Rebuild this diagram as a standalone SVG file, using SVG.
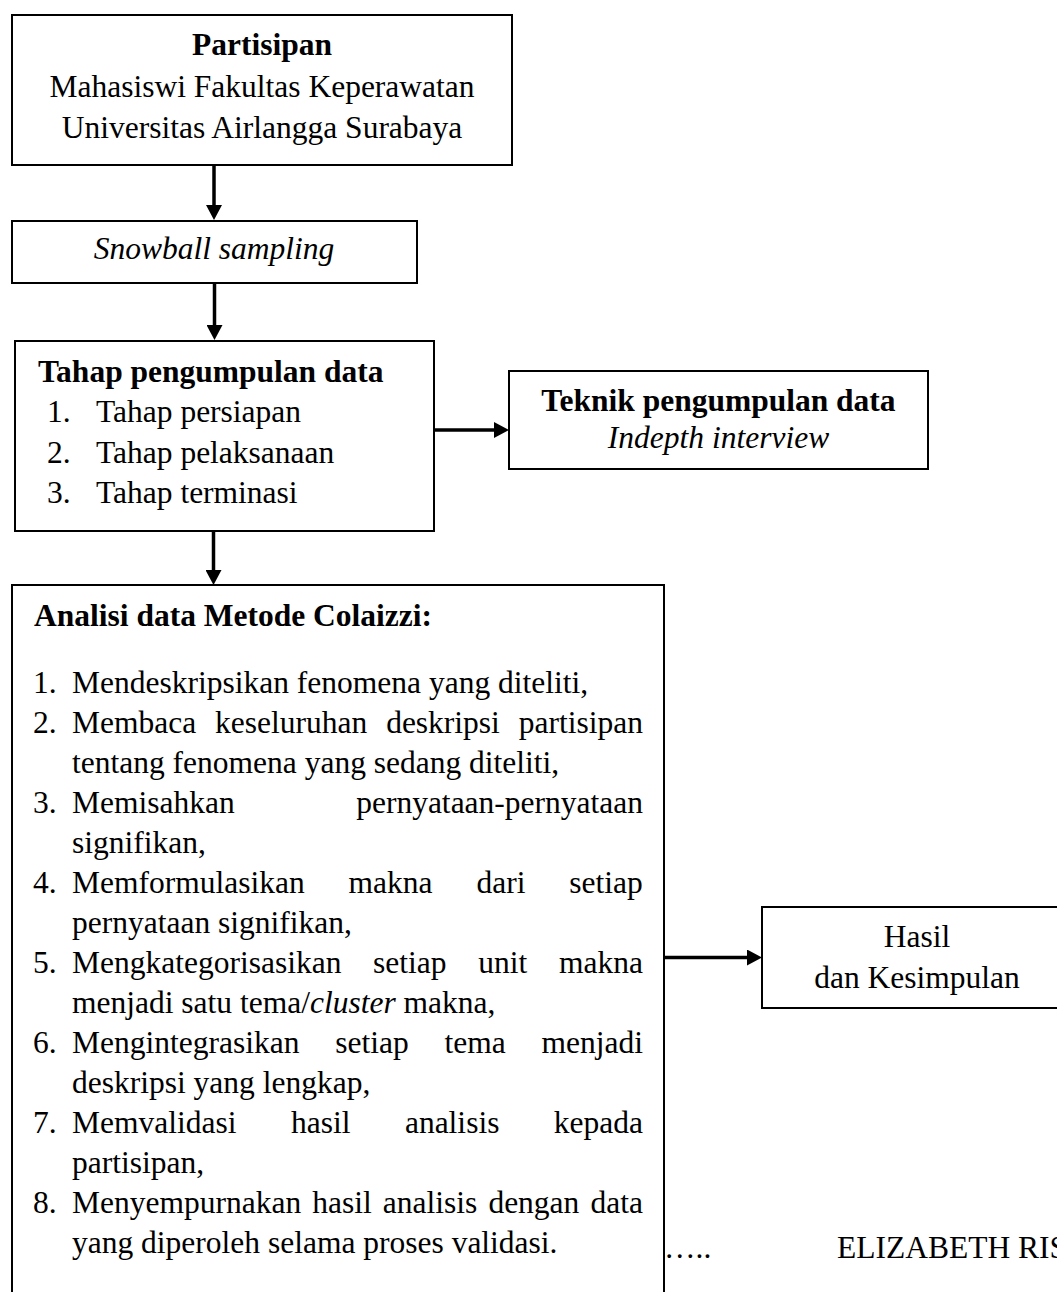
<svg xmlns="http://www.w3.org/2000/svg" width="1057" height="1292" viewBox="0 0 1057 1292">
<defs>
<style>
text{font-family:"Liberation Serif","Times New Roman",serif;font-size:31.5px;fill:#000}
.b{font-weight:bold}
.i{font-style:italic}
.c{text-anchor:middle}
.box{fill:#fff;stroke:#000;stroke-width:2}
.con{stroke:#000;stroke-width:3.5;fill:none}
</style>
<marker id="ah" markerUnits="userSpaceOnUse" viewBox="0 0 15 16" refX="3" refY="8" markerWidth="15" markerHeight="16" orient="auto">
<path d="M0,0 L15,8 L0,16 z" fill="#000"/>
</marker>
</defs>
<rect width="1057" height="1292" fill="#fff"/>

<g id="connectors">
<line class="con" x1="214" y1="165" x2="214" y2="208" marker-end="url(#ah)"/>
<line class="con" x1="214.5" y1="283" x2="214.5" y2="328" marker-end="url(#ah)"/>
<line class="con" x1="213.5" y1="531" x2="213.5" y2="573" marker-end="url(#ah)"/>
<line class="con" x1="434" y1="430" x2="497" y2="430" marker-end="url(#ah)" stroke-width="4"/>
<line class="con" x1="664" y1="957.5" x2="750" y2="957.5" marker-end="url(#ah)" stroke-width="4"/>
</g>

<g id="partisipan">
<rect class="box" x="12" y="15" width="500" height="150"/>
<text class="b c" x="262" y="55">Partisipan</text>
<text class="c" x="262" y="97">Mahasiswi Fakultas Keperawatan</text>
<text class="c" x="262" y="138">Universitas Airlangga Surabaya</text>
</g>

<g id="snowball">
<rect class="box" x="12" y="221" width="405" height="62"/>
<text class="i c" x="214" y="259">Snowball sampling</text>
</g>

<g id="tahap">
<rect class="box" x="15" y="341" width="419" height="190"/>
<text class="b" x="38" y="382">Tahap pengumpulan data</text>
<text x="47" y="422">1.</text><text x="96" y="422">Tahap persiapan</text>
<text x="47" y="463">2.</text><text x="96" y="463">Tahap pelaksanaan</text>
<text x="47" y="503">3.</text><text x="96" y="503">Tahap terminasi</text>
</g>

<g id="teknik">
<rect class="box" x="509" y="371" width="419" height="98"/>
<text class="b c" x="718.5" y="411">Teknik pengumpulan data</text>
<text class="i c" x="718.5" y="448">Indepth interview</text>
</g>

<g id="analisis">
<rect class="box" x="12" y="585" width="652" height="740" stroke-width="1.8"/>
<text class="b" x="34" y="626">Analisi data Metode Colaizzi:</text>
<text x="33" y="693">1.</text><text x="72" y="693">Mendeskripsikan fenomena yang diteliti,</text>
<text x="33" y="733">2.</text><text x="72" y="733" word-spacing="11">Membaca keseluruhan deskripsi partisipan</text>
<text x="72" y="773">tentang fenomena yang sedang diteliti,</text>
<text x="33" y="813">3.</text><text x="72" y="813">Memisahkan</text><text x="643" y="813" text-anchor="end">pernyataan-pernyataan</text>
<text x="72" y="853">signifikan,</text>
<text x="33" y="893">4.</text><text x="72" y="893" word-spacing="36">Memformulasikan makna dari setiap</text>
<text x="72" y="933">pernyataan signifikan,</text>
<text x="33" y="973">5.</text><text x="72" y="973" word-spacing="23.8">Mengkategorisasikan setiap unit makna</text>
<text x="72" y="1013">menjadi satu tema/<tspan class="i">cluster</tspan> makna,</text>
<text x="33" y="1053">6.</text><text x="72" y="1053" word-spacing="27.9">Mengintegrasikan setiap tema menjadi</text>
<text x="72" y="1093">deskripsi yang lengkap,</text>
<text x="33" y="1133">7.</text><text x="72" y="1133" word-spacing="46.6">Memvalidasi hasil analisis kepada</text>
<text x="72" y="1173">partisipan,</text>
<text x="33" y="1213">8.</text><text x="72" y="1213" word-spacing="3.2">Menyempurnakan hasil analisis dengan data</text>
<text x="72" y="1253">yang diperoleh selama proses validasi.</text>
</g>

<g id="hasil">
<rect class="box" x="762" y="907" width="320" height="101"/>
<text class="c" x="917" y="947">Hasil</text>
<text class="c" x="917" y="988">dan Kesimpulan</text>
</g>

<g id="footer">
<text x="664" y="1258">…..</text>
<text x="837" y="1258">ELIZABETH RIS</text>
</g>
</svg>
